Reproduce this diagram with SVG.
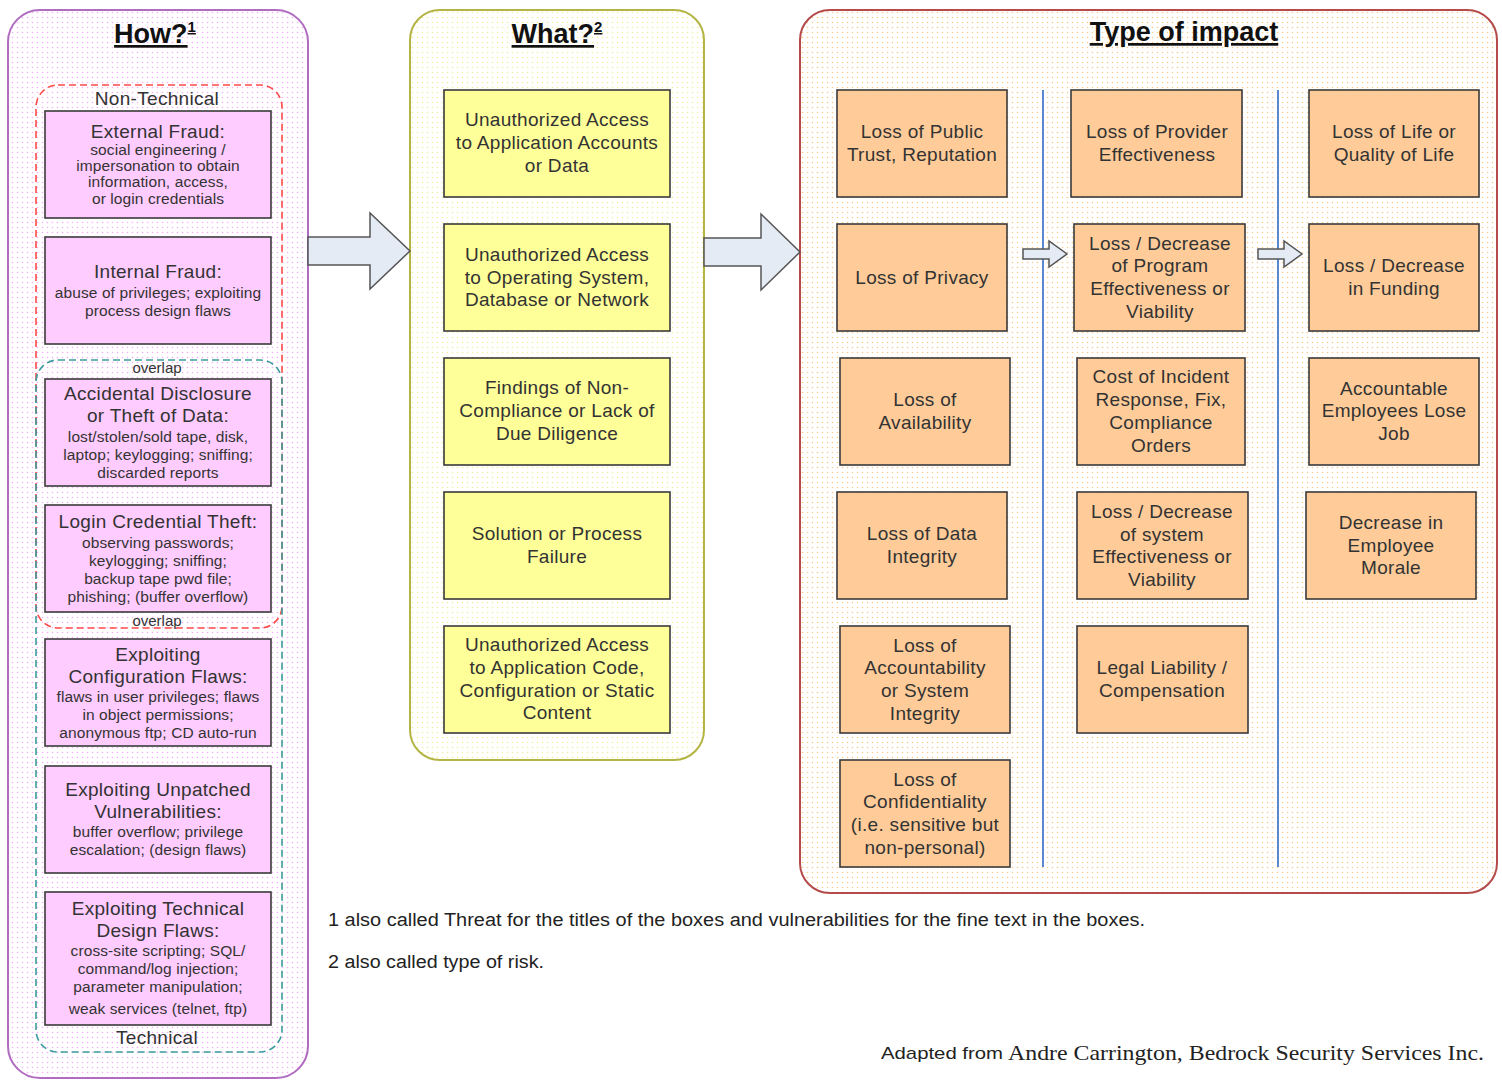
<svg xmlns="http://www.w3.org/2000/svg" width="1502" height="1080" viewBox="0 0 1502 1080">
<defs>
<pattern id="dotPink" width="5" height="5" patternUnits="userSpaceOnUse"><rect width="5" height="5" fill="#ffffff"/><circle cx="2.5" cy="2.5" r="0.8" fill="#f4b0f4"/></pattern>
<pattern id="dotYellow" width="5" height="5" patternUnits="userSpaceOnUse"><rect width="5" height="5" fill="#ffffff"/><circle cx="2.5" cy="2.5" r="0.8" fill="#f0f0a0"/></pattern>
<pattern id="dotOrange" width="5" height="5" patternUnits="userSpaceOnUse"><rect width="5" height="5" fill="#ffffff"/><circle cx="2.5" cy="2.5" r="0.8" fill="#f8cc90"/></pattern>
</defs>
<style>
text{font-family:"Liberation Sans",Arial,sans-serif;fill:#333;text-anchor:middle;dominant-baseline:central}
.title{font-weight:bold;font-size:27px;fill:#111;text-decoration:underline;dominant-baseline:auto}
.t{font-size:19px;letter-spacing:0.3px}
.d{font-size:15.5px;letter-spacing:0.1px}
.lbl{font-size:19px;letter-spacing:0.3px}
.ov{font-size:15px}
.pink{fill:#ffccff;stroke:#3a3a3a;stroke-width:1.6}
.yel{fill:#ffff99;stroke:#3a3a3a;stroke-width:1.6}
.org{fill:#ffcc99;stroke:#3a3a3a;stroke-width:1.6}
.arrow{fill:#e4ebf5;stroke:#555;stroke-width:1.5;stroke-linejoin:miter}
.sep{stroke:#5b87d0;stroke-width:2}
.foot{font-size:18px;text-anchor:start;fill:#222}
</style>

<g id="panel-how">
<rect x="8" y="10" width="300" height="1068" rx="32" fill="url(#dotPink)" stroke="#b06cc0" stroke-width="2"/>
<text class="title" x="155" y="43">How?<tspan font-size="15" dy="-11">1</tspan></text>
</g>
<g id="group-nontechnical">
<rect x="36" y="85" width="246" height="543" rx="22" fill="none" stroke="#ff4a4a" stroke-width="1.6" stroke-dasharray="7,4"/>
<text class="lbl" x="157" y="98">Non-Technical</text>
</g>
<g id="group-technical">
<rect x="36" y="360" width="246" height="692" rx="22" fill="none" stroke="#3a9c9c" stroke-width="1.6" stroke-dasharray="7,4"/>
<text class="lbl" x="157" y="1037">Technical</text>
</g>
<text class="ov" x="157" y="367">overlap</text>
<text class="ov" x="157" y="620">overlap</text>

<g id="how-external-fraud">
<rect class="pink" x="45" y="111" width="226" height="107"/>
<text class="t" x="158" y="131">External Fraud:</text>
<text class="d" x="158" y="149">social engineering /</text>
<text class="d" x="158" y="165">impersonation to obtain</text>
<text class="d" x="158" y="181">information, access,</text>
<text class="d" x="158" y="198">or login credentials</text>
</g>
<g id="how-internal-fraud">
<rect class="pink" x="45" y="237" width="226" height="107"/>
<text class="t" x="158" y="271">Internal Fraud:</text>
<text class="d" x="158" y="292">abuse of privileges; exploiting</text>
<text class="d" x="158" y="310">process design flaws</text>
</g>
<g id="how-accidental-disclosure">
<rect class="pink" x="45" y="379" width="226" height="107"/>
<text class="t" x="158" y="393">Accidental Disclosure</text>
<text class="t" x="158" y="415">or Theft of Data:</text>
<text class="d" x="158" y="436">lost/stolen/sold tape, disk,</text>
<text class="d" x="158" y="454">laptop; keylogging; sniffing;</text>
<text class="d" x="158" y="472">discarded reports</text>
</g>
<g id="how-login-credential-theft">
<rect class="pink" x="45" y="505" width="226" height="107"/>
<text class="t" x="158" y="521">Login Credential Theft:</text>
<text class="d" x="158" y="542">observing passwords;</text>
<text class="d" x="158" y="560">keylogging; sniffing;</text>
<text class="d" x="158" y="578">backup tape pwd file;</text>
<text class="d" x="158" y="596">phishing; (buffer overflow)</text>
</g>
<g id="how-configuration-flaws">
<rect class="pink" x="45" y="639" width="226" height="107"/>
<text class="t" x="158" y="654">Exploiting</text>
<text class="t" x="158" y="676">Configuration Flaws:</text>
<text class="d" x="158" y="696">flaws in user privileges; flaws</text>
<text class="d" x="158" y="714">in object permissions;</text>
<text class="d" x="158" y="732">anonymous ftp; CD auto-run</text>
</g>
<g id="how-unpatched">
<rect class="pink" x="45" y="766" width="226" height="107"/>
<text class="t" x="158" y="789">Exploiting Unpatched</text>
<text class="t" x="158" y="811">Vulnerabilities:</text>
<text class="d" x="158" y="831">buffer overflow; privilege</text>
<text class="d" x="158" y="849">escalation; (design flaws)</text>
</g>
<g id="how-technical-design-flaws">
<rect class="pink" x="45" y="892" width="226" height="133"/>
<text class="t" x="158" y="908">Exploiting Technical</text>
<text class="t" x="158" y="930">Design Flaws:</text>
<text class="d" x="158" y="950">cross-site scripting; SQL/</text>
<text class="d" x="158" y="968">command/log injection;</text>
<text class="d" x="158" y="986">parameter manipulation;</text>
<text class="d" x="158" y="1008">weak services (telnet, ftp)</text>
</g>

<g id="panel-what">
<rect x="410" y="10" width="294" height="750" rx="30" fill="url(#dotYellow)" stroke="#b4b444" stroke-width="2"/>
<text class="title" x="557" y="43">What?<tspan font-size="15" dy="-11">2</tspan></text>
</g>
<g id="what-app-accounts">
<rect class="yel" x="444" y="90" width="226" height="107"/>
<text class="t" x="557" y="119">Unauthorized Access</text>
<text class="t" x="557" y="142">to Application Accounts</text>
<text class="t" x="557" y="165">or Data</text>
</g>
<g id="what-os-db-network">
<rect class="yel" x="444" y="224" width="226" height="107"/>
<text class="t" x="557" y="254">Unauthorized Access</text>
<text class="t" x="557" y="277">to Operating System,</text>
<text class="t" x="557" y="299">Database or Network</text>
</g>
<g id="what-noncompliance">
<rect class="yel" x="444" y="358" width="226" height="107"/>
<text class="t" x="557" y="387">Findings of Non-</text>
<text class="t" x="557" y="410">Compliance or Lack of</text>
<text class="t" x="557" y="433">Due Diligence</text>
</g>
<g id="what-process-failure">
<rect class="yel" x="444" y="492" width="226" height="107"/>
<text class="t" x="557" y="533">Solution or Process</text>
<text class="t" x="557" y="556">Failure</text>
</g>
<g id="what-app-code">
<rect class="yel" x="444" y="626" width="226" height="107"/>
<text class="t" x="557" y="644">Unauthorized Access</text>
<text class="t" x="557" y="667">to Application Code,</text>
<text class="t" x="557" y="690">Configuration or Static</text>
<text class="t" x="557" y="712">Content</text>
</g>

<g id="panel-impact">
<rect x="800" y="10" width="697" height="883" rx="30" fill="url(#dotOrange)" stroke="#b44a4a" stroke-width="2"/>
<text class="title" x="1184" y="41">Type of impact</text>
</g>
<g id="separators">
<line class="sep" x1="1043" y1="90" x2="1043" y2="867"/>
<line class="sep" x1="1278" y1="90" x2="1278" y2="867"/>
</g>

<g id="impact-public-trust">
<rect class="org" x="837" y="90" width="170" height="107"/>
<text class="t" x="922" y="131">Loss of Public</text>
<text class="t" x="922" y="154">Trust, Reputation</text>
</g>
<g id="impact-privacy">
<rect class="org" x="837" y="224" width="170" height="107"/>
<text class="t" x="922" y="277">Loss of Privacy</text>
</g>
<g id="impact-availability">
<rect class="org" x="840" y="358" width="170" height="107"/>
<text class="t" x="925" y="399">Loss of</text>
<text class="t" x="925" y="422">Availability</text>
</g>
<g id="impact-data-integrity">
<rect class="org" x="837" y="492" width="170" height="107"/>
<text class="t" x="922" y="533">Loss of Data</text>
<text class="t" x="922" y="556">Integrity</text>
</g>
<g id="impact-accountability">
<rect class="org" x="840" y="626" width="170" height="107"/>
<text class="t" x="925" y="645">Loss of</text>
<text class="t" x="925" y="667">Accountability</text>
<text class="t" x="925" y="690">or System</text>
<text class="t" x="925" y="713">Integrity</text>
</g>
<g id="impact-confidentiality">
<rect class="org" x="840" y="760" width="170" height="107"/>
<text class="t" x="925" y="779">Loss of</text>
<text class="t" x="925" y="801">Confidentiality</text>
<text class="t" x="925" y="824">(i.e. sensitive but</text>
<text class="t" x="925" y="847">non-personal)</text>
</g>

<g id="impact-provider-effectiveness">
<rect class="org" x="1071" y="90" width="171" height="107"/>
<text class="t" x="1157" y="131">Loss of Provider</text>
<text class="t" x="1157" y="154">Effectiveness</text>
</g>
<g id="impact-program-effectiveness">
<rect class="org" x="1074" y="224" width="171" height="107"/>
<text class="t" x="1160" y="243">Loss / Decrease</text>
<text class="t" x="1160" y="265">of Program</text>
<text class="t" x="1160" y="288">Effectiveness or</text>
<text class="t" x="1160" y="311">Viability</text>
</g>
<g id="impact-incident-cost">
<rect class="org" x="1077" y="358" width="168" height="107"/>
<text class="t" x="1161" y="376">Cost of Incident</text>
<text class="t" x="1161" y="399">Response, Fix,</text>
<text class="t" x="1161" y="422">Compliance</text>
<text class="t" x="1161" y="445">Orders</text>
</g>
<g id="impact-system-effectiveness">
<rect class="org" x="1077" y="492" width="171" height="107"/>
<text class="t" x="1162" y="511">Loss / Decrease</text>
<text class="t" x="1162" y="534">of system</text>
<text class="t" x="1162" y="556">Effectiveness or</text>
<text class="t" x="1162" y="579">Viability</text>
</g>
<g id="impact-legal-liability">
<rect class="org" x="1077" y="626" width="171" height="107"/>
<text class="t" x="1162" y="667">Legal Liability /</text>
<text class="t" x="1162" y="690">Compensation</text>
</g>

<g id="impact-life">
<rect class="org" x="1309" y="90" width="170" height="107"/>
<text class="t" x="1394" y="131">Loss of Life or</text>
<text class="t" x="1394" y="154">Quality of Life</text>
</g>
<g id="impact-funding">
<rect class="org" x="1309" y="224" width="170" height="107"/>
<text class="t" x="1394" y="265">Loss / Decrease</text>
<text class="t" x="1394" y="288">in Funding</text>
</g>
<g id="impact-employees-job">
<rect class="org" x="1309" y="358" width="170" height="107"/>
<text class="t" x="1394" y="388">Accountable</text>
<text class="t" x="1394" y="410">Employees Lose</text>
<text class="t" x="1394" y="433">Job</text>
</g>
<g id="impact-morale">
<rect class="org" x="1306" y="492" width="170" height="107"/>
<text class="t" x="1391" y="522">Decrease in</text>
<text class="t" x="1391" y="545">Employee</text>
<text class="t" x="1391" y="567">Morale</text>
</g>

<g id="connectors">
<polygon class="arrow" points="308,237 370,237 370,213 410,251 370,289 370,265 308,265"/>
<polygon class="arrow" points="704,238 761,238 761,214 800,252 761,290 761,266 704,266"/>
<polygon class="arrow" points="1023,249 1049,249 1049,241 1067,254 1049,267 1049,259 1023,259"/>
<polygon class="arrow" points="1258,249 1284,249 1284,241 1302,254 1284,267 1284,259 1258,259"/>
</g>

<g id="footnotes">
<text class="foot" x="328" y="920" textLength="817" lengthAdjust="spacingAndGlyphs">1 also called Threat for the titles of the boxes and vulnerabilities for the fine text in the boxes.</text>
<text class="foot" x="328" y="962" textLength="216" lengthAdjust="spacingAndGlyphs">2 also called type of risk.</text>
<text class="foot" x="881" y="1053" style="font-size:17px" textLength="122" lengthAdjust="spacingAndGlyphs">Adapted from</text>
<text class="foot" x="1008" y="1053" style="font-family:'Liberation Serif','Times New Roman',serif;font-size:21px" textLength="476" lengthAdjust="spacingAndGlyphs">Andre Carrington, Bedrock Security Services Inc.</text>
</g>
</svg>
